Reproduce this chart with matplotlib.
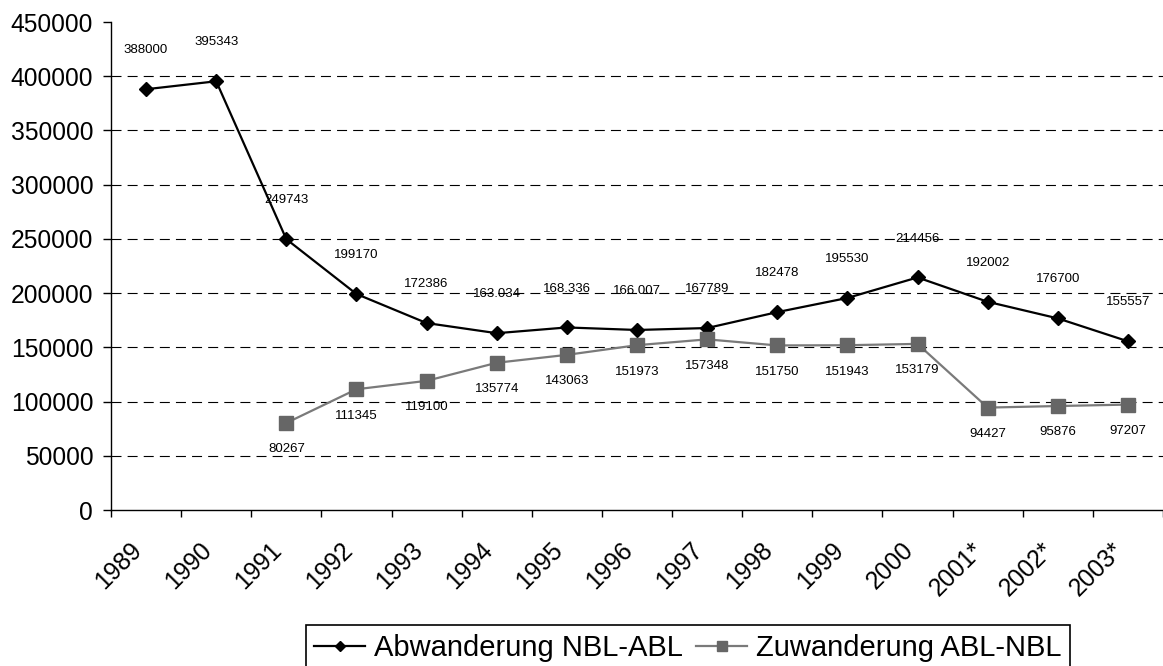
import matplotlib
matplotlib.use('Agg')
import matplotlib.pyplot as plt
import matplotlib.transforms as mtransforms
import numpy as np

plt.rcParams['font.family'] = ['Liberation Sans', 'DejaVu Sans']

years = ['1989', '1990', '1991', '1992', '1993', '1994', '1995', '1996',
         '1997', '1998', '1999', '2000', '2001*', '2002*', '2003*']
# Abwanderung NBL-ABL
abwanderung = [388000, 395343, 249743, 199170, 172386, 163034, 168336, 166007,
               167789, 182478, 195530, 214456, 192002, 176700, 155557]
abw_labels = ['388000', '395343', '249743', '199170', '172386', '163.034', '168.336',
              '166.007', '167789', '182478', '195530', '214456', '192002', '176700', '155557']
# Zuwanderung ABL-NBL (no values for 1989 and 1990)
zuwanderung = [np.nan, np.nan, 80267, 111345, 119100, 135774, 143063, 151973,
               157348, 151750, 151943, 153179, 94427, 95876, 97207]
yticks = [0, 50000, 100000, 150000, 200000, 250000, 300000, 350000, 400000, 450000]

x = np.arange(len(years))

fig = plt.figure(figsize=(11.63, 6.66), dpi=100)
ax = fig.add_axes([111/1163, 1 - 510/666, 1 - 111/1163, 488/666])

# dashed gridlines (not at 0 and not at the top)
for v in yticks[1:-1]:
    ax.axhline(v, color='black', lw=0.8, linestyle=(0, (9, 5.5)), zorder=1)

ax.plot(x, abwanderung, color='black', lw=1.6, marker='D', ms=7.3,
        mfc='black', mec='black', label='Abwanderung NBL-ABL', zorder=3)
ax.plot(x, zuwanderung, color='#7a7a7a', lw=1.6, marker='s', ms=10.5,
        mfc='#666666', mec='#666666', label='Zuwanderung ABL-NBL', zorder=3)

for xi, v, t in zip(x, abwanderung, abw_labels):
    ax.annotate(t, (xi, v), xytext=(0, 28), textcoords='offset points',
                ha='center', va='center', fontsize=9.5)
for xi, v in zip(x, zuwanderung):
    if not np.isnan(v):
        ax.annotate(str(int(v)), (xi, v), xytext=(0, -19), textcoords='offset points',
                    ha='center', va='center', fontsize=9.5)

ax.set_xlim(-0.5, len(years) - 0.5)
ax.set_ylim(0, 450000)
ax.set_yticks(yticks)
ax.set_yticklabels([str(v) for v in yticks], fontsize=17.7)
ax.tick_params(axis='y', length=5.8, width=1, pad=7)

# tick marks between categories, labels on category centers
ax.set_xticks(np.arange(-0.5, len(years)))
ax.set_xticklabels([])
ax.tick_params(axis='x', which='major', length=5, width=1)
ax.set_xticks(x, minor=True)
ax.set_xticklabels(years, minor=True, rotation=45, ha='right', va='center',
                   rotation_mode='anchor', fontsize=17.7)
ax.tick_params(axis='x', which='minor', length=0, pad=26)
shift = mtransforms.ScaledTranslation(-8/100, 0, fig.dpi_scale_trans)
for lab in ax.xaxis.get_minorticklabels():
    lab.set_transform(lab.get_transform() + shift)

ax.spines['top'].set_visible(False)
ax.spines['right'].set_visible(False)
ax.spines['left'].set_linewidth(1)
ax.spines['bottom'].set_linewidth(1)

leg = ax.legend(loc='upper center', bbox_to_anchor=(688/1163, 1 - 625/666),
                bbox_transform=fig.transFigure, ncol=2, fontsize=21,
                frameon=True, fancybox=False, edgecolor='black', framealpha=1,
                handlelength=1.75, handletextpad=0.3, columnspacing=0.45,
                borderpad=0.3, borderaxespad=0, markerscale=0.7)
leg.get_frame().set_linewidth(1.2)

fig.savefig('out.png', dpi=100)
